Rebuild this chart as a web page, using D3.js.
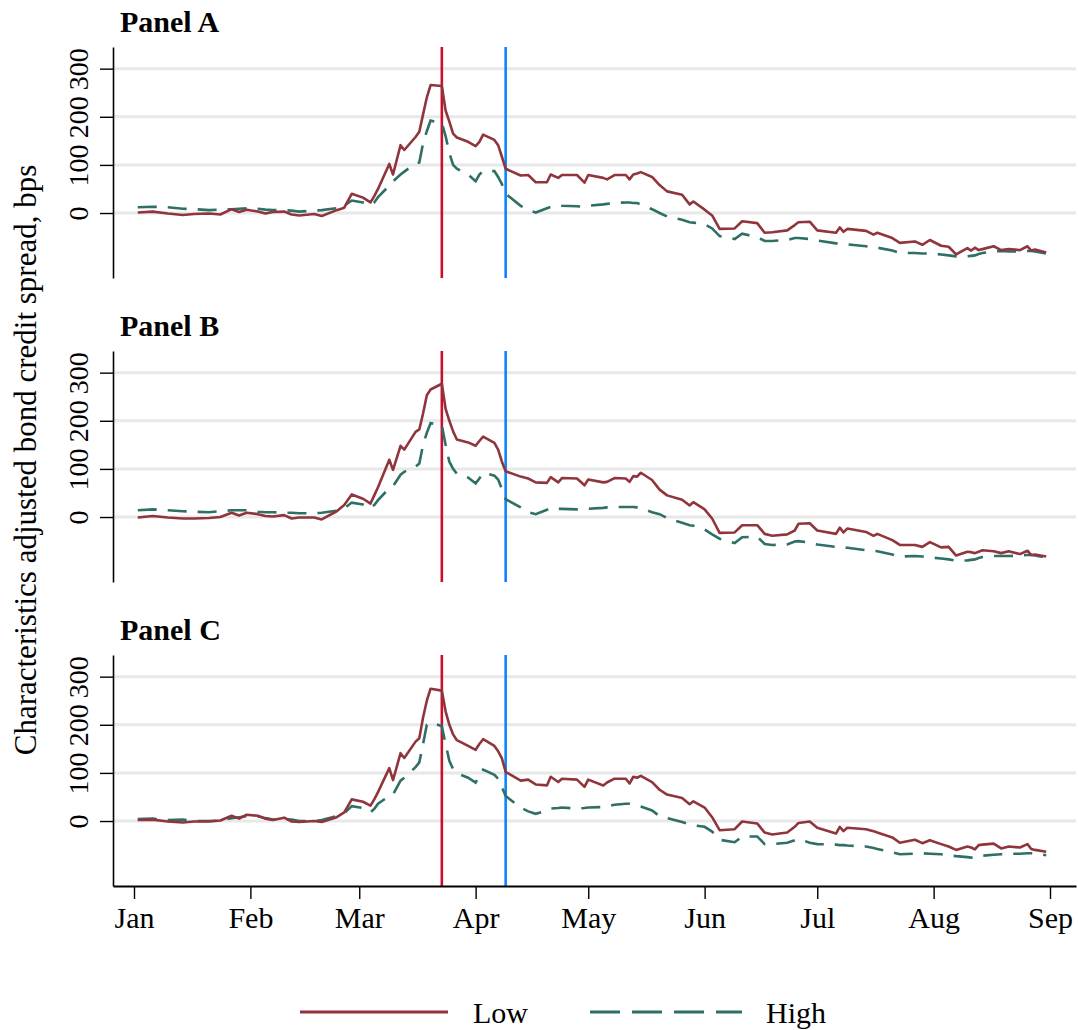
<!DOCTYPE html>
<html>
<head>
<meta charset="utf-8">
<script src="https://cdn.jsdelivr.net/npm/d3@7"></script>
<style>
  body { margin: 0; background: #fff; }
  svg text { font-family: "Liberation Serif", "Times New Roman", serif; fill: #000; }
</style>
</head>
<body>
<svg id="chart"></svg>
<script>
// Chart size
const width = 1078;
const height = 1030;

// Trading dates used for every series (2020)
const dates = [
  "2020-01-02","2020-01-06","2020-01-10","2020-01-14","2020-01-17","2020-01-21","2020-01-24","2020-01-27","2020-01-29","2020-01-31",
  "2020-02-03","2020-02-05","2020-02-07","2020-02-10","2020-02-12","2020-02-14","2020-02-18","2020-02-20","2020-02-24","2020-02-26","2020-02-28",
  "2020-03-02","2020-03-04","2020-03-05","2020-03-06","2020-03-09","2020-03-10","2020-03-12","2020-03-13","2020-03-16","2020-03-17","2020-03-18","2020-03-19","2020-03-20","2020-03-23","2020-03-24","2020-03-25","2020-03-26","2020-03-27","2020-03-30",
  "2020-04-01","2020-04-02","2020-04-03","2020-04-06","2020-04-07","2020-04-08","2020-04-09","2020-04-13","2020-04-15","2020-04-17","2020-04-20","2020-04-21","2020-04-23","2020-04-24","2020-04-28","2020-04-30",
  "2020-05-01","2020-05-05","2020-05-06","2020-05-08","2020-05-11","2020-05-12","2020-05-13","2020-05-14","2020-05-15","2020-05-18","2020-05-20","2020-05-22","2020-05-26","2020-05-28","2020-05-29",
  "2020-06-01","2020-06-03","2020-06-05","2020-06-09","2020-06-11","2020-06-15","2020-06-17","2020-06-19","2020-06-23","2020-06-25","2020-06-26","2020-06-29",
  "2020-07-01","2020-07-06","2020-07-07","2020-07-08","2020-07-09","2020-07-14","2020-07-16","2020-07-17","2020-07-21","2020-07-23","2020-07-27","2020-07-29","2020-07-31",
  "2020-08-03","2020-08-05","2020-08-07","2020-08-10","2020-08-11","2020-08-12","2020-08-13","2020-08-14","2020-08-17","2020-08-19","2020-08-21","2020-08-24","2020-08-26","2020-08-27","2020-08-28","2020-08-31"
];

// Panel A
const lowA = [
  1, 3, -1, -4, -2, -1, -3, 8, 2, 7,
  3, -1, 2, 3, -3, -5, -2, -6, 6, 11, 40,
  32, 22, 35, 50, 102, 80, 141, 131, 158, 169, 205, 240, 266, 264, 213, 190, 165, 157, 148,
  139, 148, 163, 152, 141, 117, 92, 78, 79, 64, 64, 80, 73, 79, 79, 63,
  79, 73, 70, 79, 79, 70, 80, 82, 85, 75, 58, 45, 38, 18, 24,
  7, -5, -33, -32, -17, -21, -41, -40, -36, -25, -19, -18,
  -36, -41, -30, -39, -33, -37, -45, -41, -52, -62, -59, -66, -56,
  -68, -70, -86, -73, -78, -72, -77, -75, -69, -77, -75, -77, -69, -78, -76, -82
];
const highA = [
  12, 13, 12, 9, 8, 6, 7, 8, 9, 10,
  9, 7, 6, 6, 5, 3, 5, 6, 10, 15, 26,
  22, 16, 22, 33, 57, 66, 80, 86, 103, 105, 145, 170, 192, 187, 160, 125, 100, 92, 80,
  66, 80, 87, 87, 75, 60, 40, 15, 7, 1, 10, 13, 16, 15, 14, 13,
  15, 18, 19, 21, 22, 22, 21, 21, 18, 8, 0, -7, -14, -19, -20,
  -23, -32, -48, -54, -43, -50, -58, -58, -56, -52, -52, -54,
  -57, -63, -64, -64, -65, -69, -71, -72, -78, -83, -83, -84, -84,
  -86, -88, -90, -90, -89, -88, -85, -83, -80, -79, -80, -80, -79, -79, -80, -84
];

// Panel B
const lowB = [
  -1, 2, -1, -3, -3, -2, 0, 9, 3, 9,
  6, 2, 1, 4, -3, -1, -1, -5, 12, 25, 47,
  38, 28, 45, 62, 119, 98, 148, 140, 177, 182, 215, 253, 265, 277, 225, 200, 178, 161, 155,
  148, 158, 167, 154, 140, 115, 95, 84, 80, 72, 71, 83, 72, 81, 80, 66,
  78, 72, 73, 81, 80, 73, 85, 84, 92, 77, 57, 45, 36, 24, 31,
  16, -3, -33, -32, -17, -17, -35, -39, -36, -28, -14, -13,
  -28, -35, -22, -32, -24, -31, -39, -35, -48, -58, -58, -62, -52,
  -63, -62, -80, -72, -73, -75, -72, -69, -71, -75, -71, -77, -70, -79, -78, -82
];
const highB = [
  14, 16, 14, 12, 11, 10, 12, 14, 14, 14,
  11, 10, 10, 9, 9, 8, 8, 9, 13, 18, 30,
  26, 18, 25, 35, 60, 64, 88, 94, 105, 111, 150, 175, 195, 191, 150, 115, 100, 90, 82,
  70, 80, 92, 86, 78, 58, 37, 20, 10, 6, 15, 19, 17, 17, 16, 16,
  17, 19, 20, 21, 21, 21, 21, 20, 19, 10, 6, -2, -12, -17, -18,
  -26, -36, -45, -54, -42, -41, -56, -58, -57, -51, -50, -53,
  -57, -62, -63, -63, -64, -69, -70, -71, -78, -82, -81, -82, -84,
  -86, -88, -91, -90, -89, -88, -85, -83, -81, -81, -81, -80, -79, -79, -80, -84
];

// Panel C
const lowC = [
  2, 3, -1, -3, -1, -1, 1, 11, 5, 13,
  11, 5, 2, 7, -1, -2, 0, -2, 8, 18, 45,
  40, 32, 45, 60, 110, 85, 141, 131, 165, 172, 215, 250, 275, 271, 228, 200, 180, 168, 156,
  148, 160, 170, 156, 145, 130, 102, 84, 86, 76, 74, 92, 81, 88, 86, 71,
  86, 74, 80, 88, 88, 78, 92, 90, 94, 81, 65, 55, 48, 35, 41,
  28, 8, -19, -17, -1, -5, -24, -28, -24, -12, -4, -1,
  -14, -26, -12, -21, -14, -17, -21, -24, -34, -45, -39, -46, -40,
  -48, -53, -60, -53, -55, -59, -50, -49, -47, -57, -53, -55, -48, -58, -60, -64
];
const highC = [
  4, 5, 2, 3, 0, 0, 1, 6, 8, 10,
  10, 6, 3, 4, 3, 0, 0, 2, 10, 16, 31,
  27, 18, 25, 36, 52, 55, 84, 90, 112, 122, 160, 200, 205, 197, 160, 125, 108, 99, 90,
  80, 95, 107, 96, 88, 70, 52, 28, 20, 15, 22, 26, 27, 28, 26, 27,
  28, 29, 30, 34, 36, 36, 34, 32, 30, 22, 10, 6, -2, -7, -9,
  -12, -22, -39, -44, -32, -32, -48, -48, -45, -40, -37, -45,
  -48, -49, -50, -50, -51, -53, -56, -58, -65, -69, -68, -67, -68,
  -69, -71, -73, -75, -76, -76, -74, -72, -70, -69, -68, -68, -67, -67, -68, -71
];

// Labels and ticks
const panelNames = ["Panel A", "Panel B", "Panel C"];
const monthTicks = ["2020-01-01","2020-02-01","2020-03-01","2020-04-01","2020-05-01","2020-06-01","2020-07-01","2020-08-01","2020-09-01"];
const yTicks = [0, 100, 200, 300];
const eventDates = ["2020-03-23", "2020-04-09"];
const seriesNames = ["Low", "High"];
const yTitle = "Characteristics adjusted bond credit spread, bps";

// Styles
const lowColor = "#90353b";
const highColor = "#2e6f66";
const eventColors = ["#c8102e", "#0a84ff"];

const parse = d3.timeParse("%Y-%m-%d");
const dateObjs = dates.map(parse);

const panels = [
  { name: panelNames[0], low: lowA, high: highA },
  { name: panelNames[1], low: lowB, high: highB },
  { name: panelNames[2], low: lowC, high: highC }
];

const plotLeft = 113;
const plotRight = 1076;
const panelTops = [47, 351, 655];
const panelHeight = 231;

// x scale: Jan 1 sits at 134px, Sep 1 at 1050px
const x = d3.scaleTime()
  .domain([parse("2020-01-01"), parse("2020-09-01")])
  .range([134, 1050]);
x.domain([x.invert(plotLeft), x.invert(plotRight)]).range([plotLeft, plotRight]);

const svg = d3.select("#chart")
  .attr("width", width)
  .attr("height", height);

svg.append("rect").attr("width", width).attr("height", height).attr("fill", "#fff");

panels.forEach((p, i) => {
  const top = panelTops[i];
  const bottom = top + panelHeight;

  const y = d3.scaleLinear()
    .domain([-135, 345])
    .range([bottom, top]);

  const g = svg.append("g");

  // Gridlines
  g.selectAll(".grid")
    .data(yTicks)
    .enter()
    .append("line")
    .attr("x1", plotLeft)
    .attr("x2", plotRight)
    .attr("y1", d => y(d))
    .attr("y2", d => y(d))
    .attr("stroke", "#e8e8e8")
    .attr("stroke-width", 3);

  // Event lines
  g.selectAll(".event")
    .data(eventDates)
    .enter()
    .append("line")
    .attr("x1", d => x(parse(d)))
    .attr("x2", d => x(parse(d)))
    .attr("y1", top)
    .attr("y2", bottom)
    .attr("stroke", (d, k) => eventColors[k])
    .attr("stroke-width", 2.6);

  const line = d3.line()
    .x((d, k) => x(dateObjs[k]))
    .y(d => y(d));

  g.append("path")
    .datum(p.high)
    .attr("d", line)
    .attr("fill", "none")
    .attr("stroke", highColor)
    .attr("stroke-width", 2.6)
    .attr("stroke-dasharray", "19,11");

  g.append("path")
    .datum(p.low)
    .attr("d", line)
    .attr("fill", "none")
    .attr("stroke", lowColor)
    .attr("stroke-width", 2.6)
    .attr("stroke-linejoin", "round");

  // y axis with rotated labels
  const yAxis = g.append("g")
    .attr("transform", `translate(${plotLeft},0)`)
    .call(d3.axisLeft(y).tickValues(yTicks).tickSize(13).tickSizeOuter(0));
  yAxis.select(".domain").attr("stroke", "#000").attr("stroke-width", 1.6);
  yAxis.selectAll(".tick line").attr("stroke", "#000").attr("stroke-width", 1.4);
  yAxis.selectAll(".tick text")
    .attr("x", null)
    .attr("dy", null)
    .attr("text-anchor", "middle")
    .attr("transform", "translate(-25,0) rotate(-90)")
    .style("font-size", "28px")
    .style("font-family", "'Liberation Serif', serif");

  // Panel title
  g.append("text")
    .attr("x", 120)
    .attr("y", top - 15)
    .attr("font-weight", "bold")
    .style("font-size", "30px")
    .text(p.name);

  // Bottom axis only on the last panel
  if (i === panels.length - 1) {
    const xAxis = svg.append("g")
      .attr("transform", `translate(0,${bottom})`)
      .call(d3.axisBottom(x)
        .tickValues(monthTicks.map(parse))
        .tickFormat(d3.timeFormat("%b"))
        .tickSize(13)
        .tickSizeOuter(0)
        .tickPadding(8));
    xAxis.select(".domain").attr("stroke", "#000").attr("stroke-width", 1.8);
    xAxis.selectAll(".tick line").attr("stroke", "#000").attr("stroke-width", 1.4);
    xAxis.selectAll(".tick text")
      .style("font-size", "30px")
      .style("font-family", "'Liberation Serif', serif");
  }
});

// Y axis title
svg.append("text")
  .attr("transform", "translate(36,460) rotate(-90)")
  .attr("text-anchor", "middle")
  .style("font-size", "31px")
  .text(yTitle);

// Legend
const legend = svg.append("g").attr("transform", "translate(0,1012)");
const legendItems = [
  { name: seriesNames[0], color: lowColor, dash: null, x1: 300, x2: 448, tx: 473 },
  { name: seriesNames[1], color: highColor, dash: "30,12", x1: 590, x2: 742, tx: 766 }
];
legendItems.forEach(d => {
  legend.append("line")
    .attr("x1", d.x1)
    .attr("x2", d.x2)
    .attr("y1", 0)
    .attr("y2", 0)
    .attr("stroke", d.color)
    .attr("stroke-width", 3)
    .attr("stroke-dasharray", d.dash);
  legend.append("text")
    .attr("x", d.tx)
    .attr("y", 11)
    .style("font-size", "30px")
    .text(d.name);
});
</script>
</body>
</html>
